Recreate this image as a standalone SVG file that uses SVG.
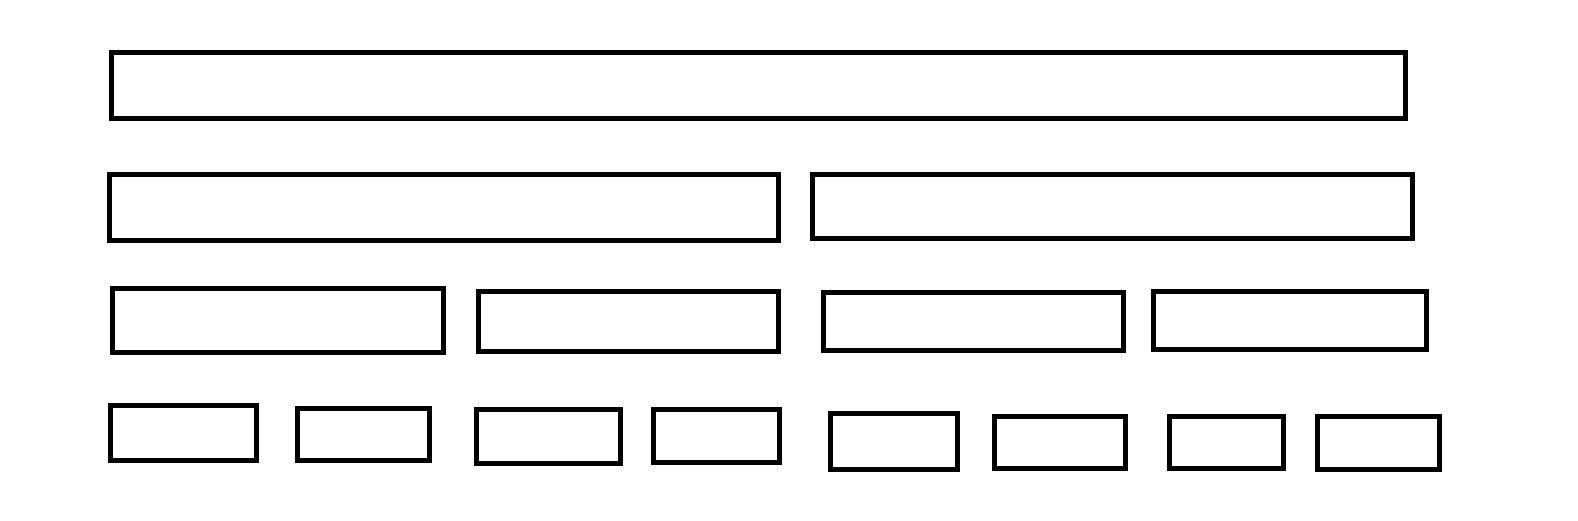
<svg xmlns="http://www.w3.org/2000/svg" width="1578" height="521" viewBox="0 0 1578 521">
<style>
.box{fill:#ffffff;stroke:#000000;stroke-width:5}
</style>
<rect width="1578" height="521" fill="#ffffff"/>
<g id="n0"><rect class="box" x="111.5" y="52.5" width="1294" height="66"/></g>
<g id="n1"><rect class="box" x="109.5" y="174.5" width="669" height="66"/></g>
<g id="n2"><rect class="box" x="812.5" y="174.5" width="600" height="64"/></g>
<g id="n3"><rect class="box" x="112.5" y="288.5" width="331" height="64"/></g>
<g id="n4"><rect class="box" x="478.5" y="291.5" width="300" height="60"/></g>
<g id="n5"><rect class="box" x="823.5" y="292.5" width="300" height="58"/></g>
<g id="n6"><rect class="box" x="1153.5" y="291.5" width="273" height="58"/></g>
<g id="n7"><rect class="box" x="110.5" y="405.5" width="146" height="55"/></g>
<g id="n8"><rect class="box" x="297.5" y="408.5" width="132" height="52"/></g>
<g id="n9"><rect class="box" x="476.5" y="409.5" width="144" height="54"/></g>
<g id="n10"><rect class="box" x="653.5" y="409.5" width="126" height="53"/></g>
<g id="n11"><rect class="box" x="830.5" y="413.5" width="127" height="56"/></g>
<g id="n12"><rect class="box" x="994.5" y="416.5" width="131" height="52"/></g>
<g id="n13"><rect class="box" x="1169.5" y="416.5" width="114" height="52"/></g>
<g id="n14"><rect class="box" x="1317.5" y="416.5" width="122" height="53"/></g>
<g id="connectors"></g>
</svg>
